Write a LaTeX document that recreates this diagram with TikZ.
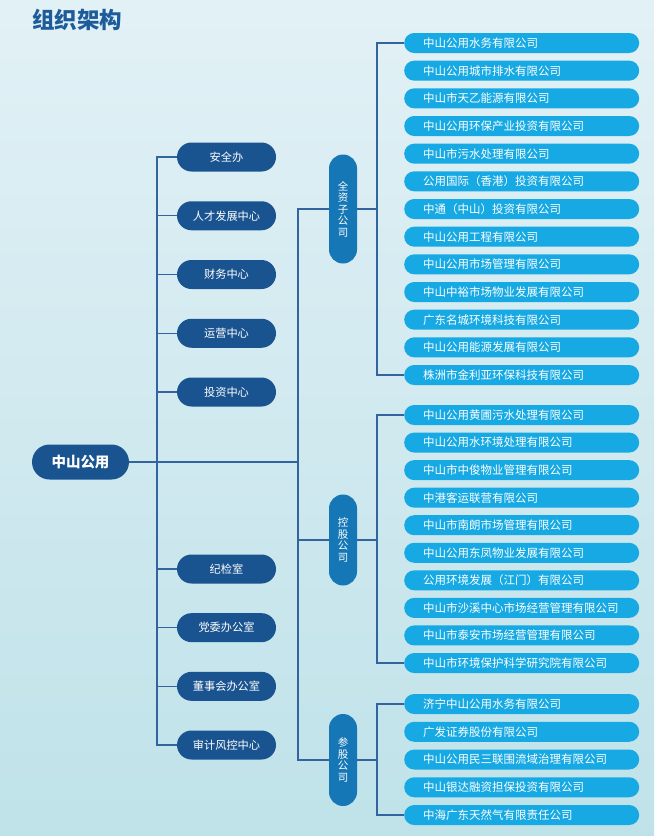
\documentclass[tikz,border=0pt]{standalone}
\usepackage{fontspec}
\setmainfont{Noto Sans CJK SC}
\definecolor{deptblue}{HTML}{1A5490}
\definecolor{catblue}{HTML}{1577B5}
\definecolor{compblue}{HTML}{17A9E3}
\definecolor{linkblue}{HTML}{3464A0}
\definecolor{titleblue}{HTML}{1D5B9A}
\definecolor{bgtop}{HTML}{E2F1F6}
\definecolor{bgbottom}{HTML}{BFE2E9}

\begin{document}
\begin{tikzpicture}[x=1pt,y=-1pt]
\tikzset{
  rootnode/.style={draw=none,fill=deptblue,text=white,rounded corners=17.5pt,minimum width=97pt,minimum height=35pt,inner sep=0pt,font=\fontsize{14.5}{16}\selectfont\bfseries},
  deptnode/.style={draw=none,fill=deptblue,text=white,rounded corners=14.5pt,minimum width=99pt,minimum height=29pt,inner sep=0pt,font=\fontsize{11.2}{12}\selectfont},
  catnode/.style={draw=none,fill=catblue,text=white,rounded corners=14pt,minimum width=28pt,inner sep=0pt,align=center,font=\fontsize{10.5}{11.5}\selectfont},
  compnode/.style={draw=none,fill=compblue,text=white,rounded corners=10pt,anchor=west,minimum height=20pt,inner ysep=0pt,inner xsep=19pt,text width=197pt,align=left,font=\fontsize{11.5}{12}\selectfont},
  link/.style={draw=linkblue,line width=1.3pt}
}
\shade[top color=bgtop,bottom color=bgbottom] (0,0) rectangle (654,836);
\useasboundingbox (0,0) rectangle (654,836);
\node[text=titleblue,font=\fontsize{22.5}{25}\selectfont\bfseries] (n_title) at (77,20) {组织架构};
\node[rootnode] (n_root) at (80.5,462) {中山公用};
\node[deptnode] (n_anquan) at (226.5,157) {安全办};
\node[deptnode] (n_rencai) at (226.5,215.75) {人才发展中心};
\node[deptnode] (n_caiwu) at (226.5,274.5) {财务中心};
\node[deptnode] (n_yunying) at (226.5,333.25) {运营中心};
\node[deptnode] (n_touzi) at (226.5,392) {投资中心};
\node[deptnode] (n_jijian) at (226.5,569) {纪检室};
\node[deptnode] (n_dangwei) at (226.5,627.67) {党委办公室};
\node[deptnode] (n_dongshi) at (226.5,686.33) {董事会办公室};
\node[deptnode] (n_shenji) at (226.5,745) {审计风控中心};
\node[catnode,minimum height=109pt] (n_quanzi) at (343,209) {全\\资\\子\\公\\司};
\node[catnode,minimum height=91pt] (n_konggu) at (343,540) {控\\股\\公\\司};
\node[catnode,minimum height=92pt] (n_cangu) at (343,760) {参\\股\\公\\司};
\node[compnode] (n_qz1) at (404,43) {中山公用水务有限公司};
\node[compnode] (n_qz2) at (404,70.67) {中山公用城市排水有限公司};
\node[compnode] (n_qz3) at (404,98.33) {中山市天乙能源有限公司};
\node[compnode] (n_qz4) at (404,126) {中山公用环保产业投资有限公司};
\node[compnode] (n_qz5) at (404,153.67) {中山市污水处理有限公司};
\node[compnode] (n_qz6) at (404,181.33) {公用国际（香港）投资有限公司};
\node[compnode] (n_qz7) at (404,209) {中通（中山）投资有限公司};
\node[compnode] (n_qz8) at (404,236.67) {中山公用工程有限公司};
\node[compnode] (n_qz9) at (404,264.33) {中山公用市场管理有限公司};
\node[compnode] (n_qz10) at (404,292) {中山中裕市场物业发展有限公司};
\node[compnode] (n_qz11) at (404,319.67) {广东名城环境科技有限公司};
\node[compnode] (n_qz12) at (404,347.33) {中山公用能源发展有限公司};
\node[compnode] (n_qz13) at (404,375) {株洲市金利亚环保科技有限公司};
\node[compnode] (n_kg1) at (404,415) {中山公用黄圃污水处理有限公司};
\node[compnode] (n_kg2) at (404,442.56) {中山公用水环境处理有限公司};
\node[compnode] (n_kg3) at (404,470.11) {中山市中俊物业管理有限公司};
\node[compnode] (n_kg4) at (404,497.67) {中港客运联营有限公司};
\node[compnode] (n_kg5) at (404,525.22) {中山市南朗市场管理有限公司};
\node[compnode] (n_kg6) at (404,552.78) {中山公用东凤物业发展有限公司};
\node[compnode] (n_kg7) at (404,580.33) {公用环境发展（江门）有限公司};
\node[compnode] (n_kg8) at (404,607.89) {中山市沙溪中心市场经营管理有限公司};
\node[compnode] (n_kg9) at (404,635.44) {中山市泰安市场经营管理有限公司};
\node[compnode] (n_kg10) at (404,663) {中山市环境保护科学研究院有限公司};
\node[compnode] (n_cg1) at (404,704) {济宁中山公用水务有限公司};
\node[compnode] (n_cg2) at (404,731.75) {广发证券股份有限公司};
\node[compnode] (n_cg3) at (404,759.5) {中山公用民三联围流域治理有限公司};
\node[compnode] (n_cg4) at (404,787.25) {中山银达融资担保投资有限公司};
\node[compnode] (n_cg5) at (404,815) {中海广东天然气有限责任公司};
\coordinate (c_trunk) at (157,462);
\coordinate (c_hub) at (298,462);
\coordinate (c_qz) at (377,209);
\coordinate (c_kg) at (377,540);
\coordinate (c_cg) at (377,760);
\draw[link] (n_root.east) -- (c_hub);
\draw[link] (n_anquan.west) -| (c_trunk) |- (n_shenji.west);
\draw[link] (n_rencai.west) -- (n_rencai.west -| c_trunk);
\draw[link] (n_caiwu.west) -- (n_caiwu.west -| c_trunk);
\draw[link] (n_yunying.west) -- (n_yunying.west -| c_trunk);
\draw[link] (n_touzi.west) -- (n_touzi.west -| c_trunk);
\draw[link] (n_jijian.west) -- (n_jijian.west -| c_trunk);
\draw[link] (n_dangwei.west) -- (n_dangwei.west -| c_trunk);
\draw[link] (n_dongshi.west) -- (n_dongshi.west -| c_trunk);
\draw[link] (n_quanzi.west) -| (c_hub) |- (n_cangu.west);
\draw[link] (n_konggu.west) -- (n_konggu.west -| c_hub);
\draw[link] (n_quanzi.east) -- (c_qz);
\draw[link] (n_qz1.west) -| (c_qz) |- (n_qz13.west);
\draw[link] (n_konggu.east) -- (c_kg);
\draw[link] (n_kg1.west) -| (c_kg) |- (n_kg10.west);
\draw[link] (n_cangu.east) -- (c_cg);
\draw[link] (n_cg1.west) -| (c_cg) |- (n_cg5.west);
\end{tikzpicture}
\end{document}
